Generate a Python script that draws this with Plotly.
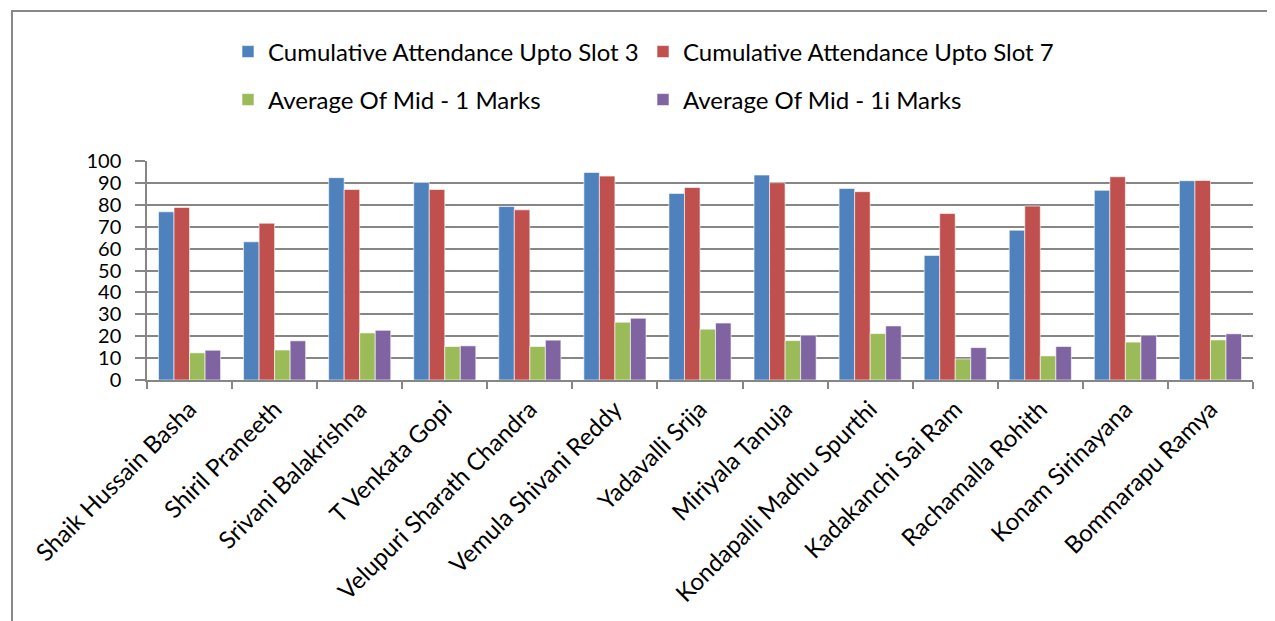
import plotly.graph_objects as go

students = ["Shaik Hussain Basha", "Shiril Praneeth", "Srivani Balakrishna", "T Venkata Gopi",
            "Velupuri Sharath Chandra", "Vemula Shivani Reddy", "Yadavalli Srija", "Miriyala Tanuja",
            "Kondapalli Madhu Spurthi", "Kadakanchi Sai Ram", "Rachamalla Rohith", "Konam Sirinayana",
            "Bommarapu Ramya"]
slot3 = [76.8, 63.1, 92.4, 90.2, 79.2, 94.8, 85.2, 93.6, 87.5, 56.9, 68.4, 86.6, 91.0]
slot7 = [78.8, 71.6, 87.0, 87.0, 77.7, 93.1, 87.9, 90.1, 86.0, 76.0, 79.4, 92.8, 91.1]
mid1 = [12.4, 13.7, 21.5, 15.3, 15.3, 26.4, 23.2, 18.0, 21.2, 9.6, 11.0, 17.3, 18.3]
mid2 = [13.6, 17.9, 22.7, 15.6, 18.2, 28.2, 26.0, 20.5, 24.7, 14.8, 15.3, 20.5, 21.1]
y_ticks = [0, 10, 20, 30, 40, 50, 60, 70, 80, 90, 100]

series = [
    ("Cumulative Attendance Upto Slot 3", slot3, "#4F81BD", "legend"),
    ("Cumulative Attendance Upto Slot 7", slot7, "#C0504D", "legend"),
    ("Average Of Mid - 1 Marks", mid1, "#9BBB59", "legend2"),
    ("Average Of Mid - 1i Marks", mid2, "#8064A2", "legend2"),
]

FONT = "Lato"
fig = go.Figure()
for name, vals, color, lg in series:
    fig.add_trace(go.Bar(x=students, y=vals, name=name, legend=lg,
                         marker=dict(color=color, line=dict(color="rgba(255,255,255,0.6)", width=1))))

# page body has an 8px margin: compensate so the chart lands where the reference has it
OFF = 8
W, H = 1275 - OFF, 621 - OFF
ml, mr, mt, mb = 147 - OFF, 22, 161 - OFF, 241
pw, ph = W - ml - mr, H - mt - mb

legend_common = dict(orientation="h", font=dict(family=FONT, size=24, color="#000"),
                     entrywidth=370, entrywidthmode="pixels", xanchor="left",
                     yanchor="middle", yref="container", bgcolor="rgba(0,0,0,0)",
                     itemclick=False, itemdoubleclick=False, traceorder="normal")
fig.update_layout(
    width=W, height=H,
    margin=dict(l=ml, r=mr, t=mt, b=mb),
    paper_bgcolor="white", plot_bgcolor="white",
    barmode="group", bargap=0.27, bargroupgap=0,
    font=dict(family=FONT, color="#000"),
    legend=dict(x=(228 - 147) / pw, y=1 - (52 - OFF) / H, **legend_common),
    legend2=dict(x=(228 - 147) / pw, y=1 - (100 - OFF) / H, **legend_common),
    xaxis=dict(showline=True, linecolor="#868686", linewidth=1.5, ticks="outside",
               tickson="boundaries", ticklen=7, tickcolor="#868686", tickwidth=1.5,
               ticklabelstandoff=4,
               tickangle=-45, tickfont=dict(family=FONT, size=24, color="#000"),
               showgrid=False),
    yaxis=dict(range=[0, 100], tickvals=y_ticks, showline=True, linecolor="#868686",
               linewidth=1.5, ticks="outside", ticklen=10, tickcolor="#868686", tickwidth=1.5,
               ticklabelstandoff=10,
               showgrid=True, gridcolor="#868686", gridwidth=1.5,
               tickfont=dict(family=FONT, size=20, color="#000"), zeroline=False),
    shapes=[dict(type="rect", xref="paper", yref="paper",
                 x0=(12 - 147) / pw, x1=(1300 - 147) / pw,
                 y0=(380 - 650) / ph, y1=(380 - 11) / ph,
                 line=dict(color="#888888", width=2), fillcolor="rgba(0,0,0,0)", layer="below")],
)

fig.write_html("out.html")
